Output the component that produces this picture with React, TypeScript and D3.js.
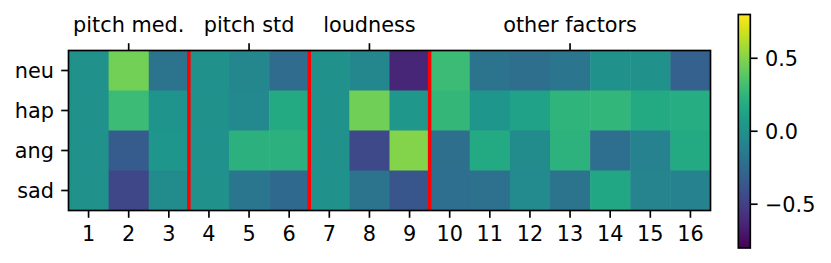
import React, { useEffect, useRef } from 'react'
import * as d3 from 'd3'

const emotions = ['neu', 'hap', 'ang', 'sad']
const features = ['1', '2', '3', '4', '5', '6', '7', '8', '9', '10', '11', '12', '13', '14', '15', '16']

// top axis groups: label + the feature column it sits over
const groupLabels = ['pitch med.', 'pitch std', 'loudness', 'other factors']
const groupTicks = ['2', '5', '8', '13']
// red separators sit after these columns
const separatorsAfter = ['3', '6', '9']

const neu = [0.0, 0.46, -0.19, 0.0, -0.06, -0.24, 0.0, -0.06, -0.63, 0.29, -0.19, -0.22, -0.18, 0.0, 0.0, -0.31]
const hap = [0.0, 0.29, 0.03, 0.0, -0.05, 0.17, 0.0, 0.45, 0.05, 0.26, 0.04, 0.12, 0.24, 0.25, 0.17, 0.19]
const ang = [0.0, -0.34, 0.04, 0.0, 0.22, 0.22, 0.0, -0.45, 0.5, -0.22, 0.17, -0.03, 0.23, -0.23, -0.1, 0.17]
const sad = [0.0, -0.46, -0.03, 0.0, -0.17, -0.26, 0.0, -0.19, -0.37, -0.23, -0.21, -0.04, -0.19, 0.15, -0.08, -0.09]

const colorTicks = [-0.5, 0.0, 0.5]
const vmin = -0.8
const vmax = 0.8

const App = () => {
    const ref = useRef<SVGSVGElement>(null)

    useEffect(() => {
        const svg = d3.select(ref.current)
        svg.selectAll('*').remove()

        const font = 'DejaVu Sans'
        const fs = 20.8
        const tickLen = 7.3
        const lw = 1.67

        const left = 68.5, right = 710.5, top = 50.5, bottom = 210.5

        const x = d3.scaleBand().domain(features).range([left, right])
        const y = d3.scaleBand().domain(emotions).range([top, bottom])
        const color = d3.scaleSequential(d3.interpolateViridis).domain([vmin, vmax])

        const rows = [neu, hap, ang, sad]
        const cells = rows.flatMap((vals, i) => vals.map((v, j) => ({ row: emotions[i], col: features[j], v })))

        const g = svg.append('g')

        g.selectAll('rect.cell')
            .data(cells)
            .join('rect')
            .attr('class', 'cell')
            .attr('x', d => x(d.col))
            .attr('y', d => y(d.row))
            .attr('width', x.bandwidth() + 0.5)
            .attr('height', y.bandwidth() + 0.5)
            .attr('fill', d => color(d.v))

        g.selectAll('line.sep')
            .data(separatorsAfter)
            .join('line')
            .attr('class', 'sep')
            .attr('x1', d => x(d) + x.bandwidth())
            .attr('x2', d => x(d) + x.bandwidth())
            .attr('y1', top)
            .attr('y2', bottom)
            .attr('stroke', 'red')
            .attr('stroke-width', 3.5)

        g.append('rect')
            .attr('x', left)
            .attr('y', top)
            .attr('width', right - left)
            .attr('height', bottom - top)
            .attr('fill', 'none')
            .attr('stroke', '#000')
            .attr('stroke-width', lw)

        // bottom ticks
        const bt = g.selectAll('g.bt').data(features).join('g')
            .attr('transform', d => `translate(${x(d) + x.bandwidth() / 2},${bottom})`)
        bt.append('line').attr('y2', tickLen).attr('stroke', '#000').attr('stroke-width', lw)
        bt.append('text')
            .attr('y', 30)
            .attr('text-anchor', 'middle')
            .attr('font-family', font)
            .attr('font-size', fs)
            .text(d => d)

        // top group ticks
        const tt = g.selectAll('g.tt').data(groupTicks).join('g')
            .attr('transform', d => `translate(${x(d) + x.bandwidth() / 2},${top})`)
        tt.append('line').attr('y2', -tickLen).attr('stroke', '#000').attr('stroke-width', lw)
        tt.append('text')
            .attr('y', -19)
            .attr('text-anchor', 'middle')
            .attr('font-family', font)
            .attr('font-size', fs)
            .text((d, i) => groupLabels[i])

        // left ticks
        const lt = g.selectAll('g.lt').data(emotions).join('g')
            .attr('transform', d => `translate(${left},${y(d) + y.bandwidth() / 2})`)
        lt.append('line').attr('x2', -tickLen).attr('stroke', '#000').attr('stroke-width', lw)
        lt.append('text')
            .attr('x', -14.6)
            .attr('dy', '0.35em')
            .attr('text-anchor', 'end')
            .attr('font-family', font)
            .attr('font-size', fs)
            .text(d => d)

        // colorbar
        const cbLeft = 738.3, cbRight = 750.3, cbTop = 14.5, cbBottom = 248
        const cy = d3.scaleLinear().domain([vmin, vmax]).range([cbBottom, cbTop])

        const grad = svg.append('defs').append('linearGradient')
            .attr('id', 'viridis')
            .attr('x1', 0).attr('x2', 0).attr('y1', 1).attr('y2', 0)
        grad.selectAll('stop')
            .data(d3.range(0, 1.0001, 0.05))
            .join('stop')
            .attr('offset', d => d)
            .attr('stop-color', d => d3.interpolateViridis(d))

        svg.append('rect')
            .attr('x', cbLeft)
            .attr('y', cbTop)
            .attr('width', cbRight - cbLeft)
            .attr('height', cbBottom - cbTop)
            .attr('fill', 'url(#viridis)')
            .attr('stroke', '#000')
            .attr('stroke-width', lw)

        const ct = svg.selectAll('g.ct').data(colorTicks).join('g')
            .attr('transform', d => `translate(${cbRight},${cy(d)})`)
        ct.append('line').attr('x2', tickLen).attr('stroke', '#000').attr('stroke-width', lw)
        ct.append('text')
            .attr('x', 14.6)
            .attr('dy', '0.35em')
            .attr('font-family', font)
            .attr('font-size', fs)
            .text(d => d3.format('.1f')(d).replace('-', '\u2212'))
    }, [])

    return (
        <svg ref={ref} width={831} height={263} style={{ position: 'absolute', left: 0, top: 0, background: '#fff' }} />
    )
}

export default App
